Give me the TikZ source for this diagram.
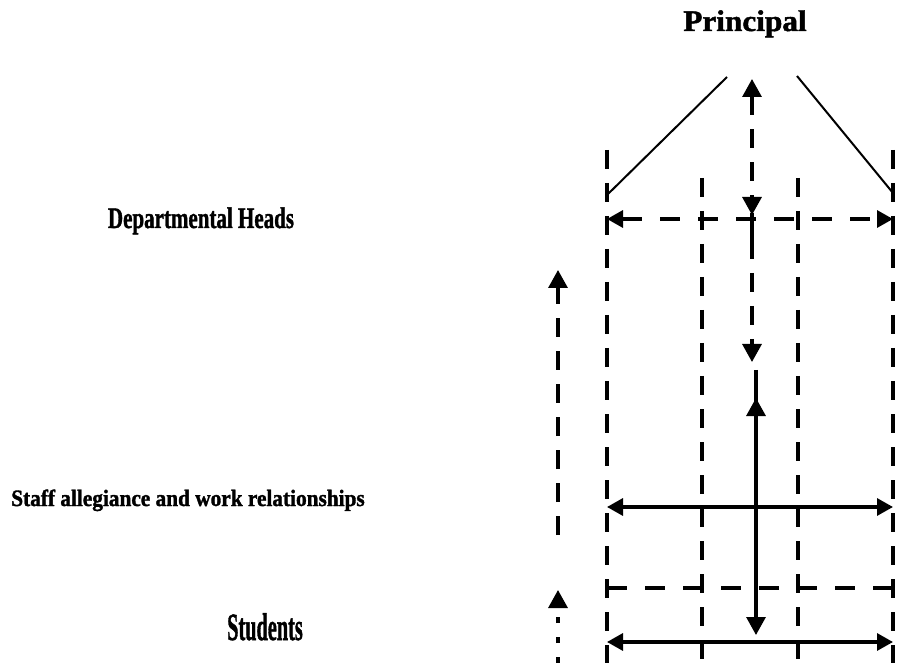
\documentclass[tikz,border=0pt]{standalone}
\usepackage{fontspec}
\setmainfont{Liberation Serif}[BoldFeatures={FakeBold=1.5}]
\usetikzlibrary{arrows.meta}
\tikzset{
  lbl/.style={inner sep=0pt, anchor=base, font=\bfseries},
  solidln/.style={line width=3.2pt},
  dashln/.style={line width=3.2pt, dash pattern=on 19pt off 14pt},
  hdash/.style={line width=3.2pt, dash pattern=on 20pt off 18pt},
  diag/.style={line width=2pt},
  tip/.style={-{Triangle[length=18pt,width=19pt]}},
  tips/.style={{Triangle[length=18pt,width=19pt]}-{Triangle[length=18pt,width=19pt]}},
  htips/.style={{Triangle[length=16pt,width=17pt]}-{Triangle[length=16pt,width=17pt]}}
}
\begin{document}
\begin{tikzpicture}[x=1pt,y=-1pt]
\useasboundingbox (0,0) rectangle (898,663);
% labels
\node[lbl] (principal) at (745,31) {\fontsize{23}{24}\selectfont\scalebox{1.36}[1.3]{Principal}};
\node[lbl] (dept) at (201,228) {\fontsize{21}{24}\selectfont\scalebox{1}[1.42]{Departmental Heads}};
\node[lbl] (staff) at (188,506) {\fontsize{21.3}{24}\selectfont\scalebox{1}[1.1]{Staff allegiance and work relationships}};
\node[lbl] (students) at (265,640) {\fontsize{20.3}{24}\selectfont\scalebox{1}[1.9]{Students}};
% coordinates
\coordinate (dl1) at (727,77); \coordinate (dl2) at (607,195);
\coordinate (dr1) at (797,76); \coordinate (dr2) at (893,193);
\coordinate (c1) at (752,79); \coordinate (c2) at (752,215); \coordinate (c3) at (752,362);
\coordinate (s1) at (756,370); \coordinate (s2) at (756,635); \coordinate (s3) at (756,398); \coordinate (s4) at (756,425);
\coordinate (h1l) at (607,219); \coordinate (h1r) at (893,219);
\coordinate (h2l) at (607,507); \coordinate (h2r) at (893,507);
\coordinate (h3l) at (607,588); \coordinate (h3r) at (893,588);
\coordinate (h4l) at (607,642); \coordinate (h4r) at (893,642);
\coordinate (v1t) at (607,150); \coordinate (v1b) at (607,663);
\coordinate (v2t) at (702,178); \coordinate (v2b) at (702,663);
\coordinate (v3t) at (798,178); \coordinate (v3b) at (798,663);
\coordinate (v4t) at (893,150); \coordinate (v4b) at (893,663);
\coordinate (l1b) at (558,535); \coordinate (l1t) at (558,270);
\coordinate (l2b) at (558,663); \coordinate (l2t) at (558,590);
% diagonals
\draw[diag] (dl1) -- (dl2);
\draw[diag] (dr1) -- (dr2);
% vertical dashed grid
\draw[dashln] (v1t) -- (v1b);
\draw[dashln] (v2t) -- (v2b);
\draw[dashln] (v3t) -- (v3b);
\draw[dashln] (v4t) -- (v4b);
% central dashed arrows
\draw[dashln, tips] (c1) -- (c2);
\draw[solidln] (752,213) -- (752,240);
\draw[dashln, tip] (752,240) -- (c3);
% central solid arrow
\draw[solidln, tip] (s1) -- (s2);
\draw[solidln, tip] (s4) -- (s3);
% horizontals
\draw[hdash, htips] (h1l) -- (h1r);
\draw[solidln, htips] (h2l) -- (h2r);
\draw[hdash] (h3l) -- (h3r);
\draw[solidln, htips] (h4l) -- (h4r);
% left arrows
\draw[dashln, tip] (l1b) -- (l1t);
\draw[line width=3.2pt, dash pattern=on 6pt off 14pt, tip] (l2b) -- (l2t);
\end{tikzpicture}
\end{document}
